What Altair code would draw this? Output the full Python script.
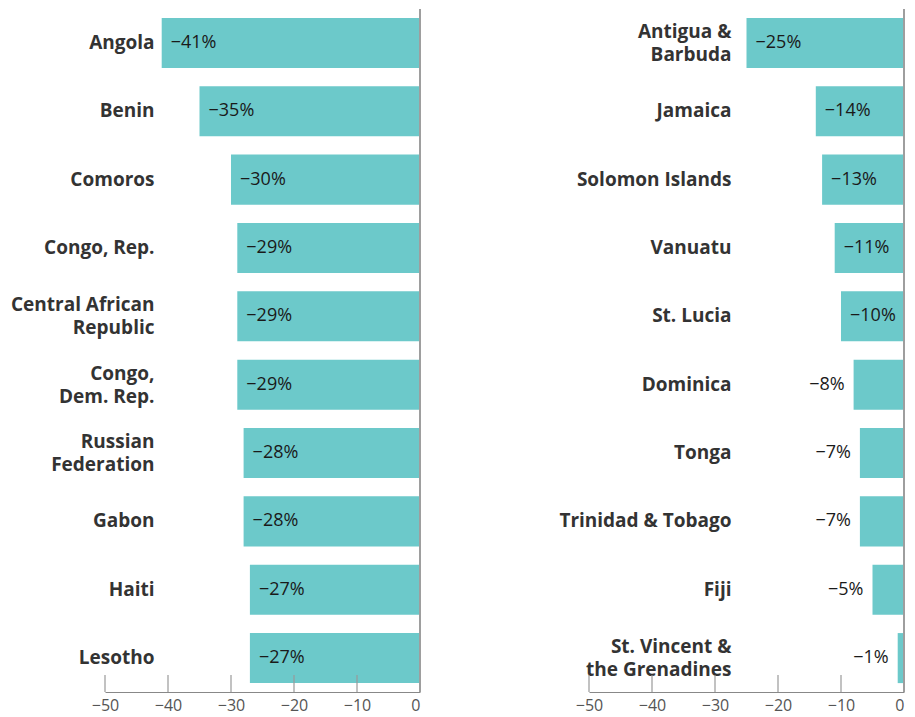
import altair as alt
import pandas as pd

left_countries = ["Angola", "Benin", "Comoros", "Congo, Rep.", "Central African|Republic",
                  "Congo,|Dem. Rep.", "Russian|Federation", "Gabon", "Haiti", "Lesotho"]
left_values = [-41, -35, -30, -29, -29, -29, -28, -28, -27, -27]

right_countries = ["Antigua &|Barbuda", "Jamaica", "Solomon Islands", "Vanuatu", "St. Lucia",
                   "Dominica", "Tonga", "Trinidad & Tobago", "Fiji", "St. Vincent &|the Grenadines"]
right_values = [-25, -14, -13, -11, -10, -8, -7, -7, -5, -1]

x_ticks = [-50, -40, -30, -20, -10, 0]

BAR = "#6cc9ca"
FONT = "Open Sans"
W, H = 315, 683
TICK_LEN = 17


def panel(countries, values, label_pad):
    df = pd.DataFrame({
        "country": countries,
        "value": values,
        "label": ["\u2212" + str(abs(v)) + "%" for v in values],
    })
    ticks_df = pd.DataFrame({"t": x_ticks})
    xscale = alt.Scale(domain=[-50, 0], nice=False)
    y = alt.Y("country:N", sort=countries, title=None,
              scale=alt.Scale(paddingInner=0.268, paddingOuter=0.13),
              axis=alt.Axis(domain=False, ticks=False, labelPadding=label_pad,
                            labelFont=FONT, labelFontWeight="bold", labelFontSize=19,
                            labelColor="#333333", labelLineHeight=23,
                            labelOffset=alt.condition("indexof(datum.label, '|') >= 0",
                                                      alt.value(-11), alt.value(0)),
                            labelExpr="split(datum.label, '|')"))
    base = alt.Chart(df)
    bars = base.mark_bar(color=BAR).encode(
        x=alt.X("value:Q", scale=xscale, title=None,
                axis=alt.Axis(values=x_ticks, ticks=False, domain=True,
                              domainColor="#888888", domainWidth=1.2, grid=False,
                              labelFont=FONT, labelFontSize=16, labelColor="#555555",
                              labelPadding=5,
                              labelAlign=alt.condition("datum.value == 0",
                                                       alt.value("right"), alt.value("center")))),
        y=y,
    )
    ticks = alt.Chart(ticks_df).mark_rule(color="#999999", strokeWidth=1.2).encode(
        x=alt.X("t:Q", scale=xscale),
        y=alt.value(H - TICK_LEN),
        y2=alt.value(H),
    )
    zero = alt.Chart(ticks_df).mark_rule(color="#9e9e9e", strokeWidth=2).encode(
        x=alt.X("t:Q", scale=xscale),
    ).transform_filter("datum.t == 0")
    text_in = base.mark_text(align="left", dx=9, font=FONT, fontSize=18, color="#1a1a1a").encode(
        x=alt.X("value:Q", scale=xscale),
        y=y,
        text="label:N",
    ).transform_filter("datum.value <= -10")
    text_out = base.mark_text(align="right", dx=-9, font=FONT, fontSize=18, color="#1a1a1a").encode(
        x=alt.X("value:Q", scale=xscale),
        y=y,
        text="label:N",
    ).transform_filter("datum.value > -10")
    return alt.layer(bars, ticks, zero, text_in, text_out).properties(width=W, height=H)


chart = alt.hconcat(
    panel(left_countries, left_values, -49),
    panel(right_countries, right_values, -142),
    spacing=169, bounds="flush",
).properties(
    padding={"left": 2, "top": 0, "right": 0, "bottom": 0},
).configure_view(stroke=None)

chart.save("out.html", embed_options={"renderer": "svg", "actions": False})
